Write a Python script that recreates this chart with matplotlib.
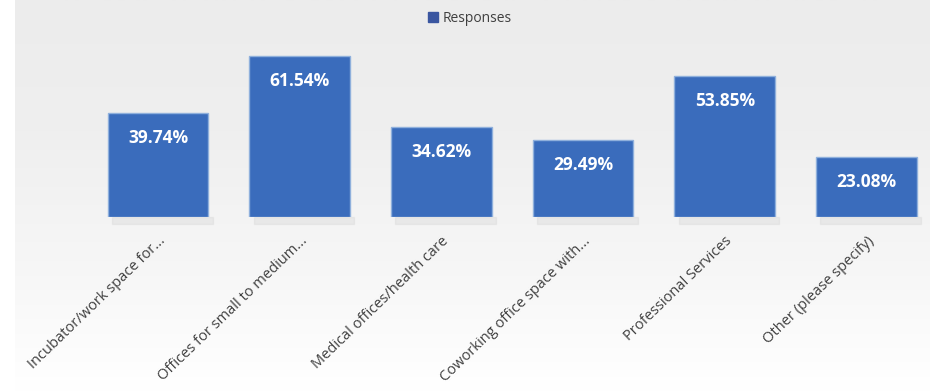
import numpy as np
import matplotlib.pyplot as plt
import matplotlib.transforms as mtransforms
from matplotlib.colors import LinearSegmentedColormap
from matplotlib.patches import Rectangle

categories = [
    "Incubator/work space for...",
    "Offices for small to medium...",
    "Medical offices/health care",
    "Coworking office space with...",
    "Professional Services",
    "Other (please specify)",
]
responses = [39.74, 61.54, 34.62, 29.49, 53.85, 23.08]

W, H = 930, 392
fig = plt.figure(figsize=(W / 100, H / 100), dpi=100)

# background: pale grey at top fading to white, white strip on the left
bg = fig.add_axes([15 / W, 0, 1 - 15 / W, 1])
grad = np.linspace(0, 1, 256).reshape(-1, 1)
cmap = LinearSegmentedColormap.from_list("bg", ["#ffffff", "#f6f6f6", "#efefef", "#ececec"])
bg.imshow(grad, aspect="auto", cmap=cmap, extent=[0, 1, 0, 1], origin="lower")
bg.axis("off")

# plot area: zero line at y=217px from top, 2.61 px per percent
zero_px = 217
ppu = 2.61
ax = fig.add_axes([0, (H - zero_px) / H, 1, zero_px / H])
ax.patch.set_alpha(0)
x = np.arange(len(categories))
step = 141.7
ax.set_xlim(-158 / step, (W - 158) / step)
ax.set_ylim(0, zero_px / ppu)

bars = ax.bar(x, responses, width=0.71, color="#3a6cbc", edgecolor="#8fb0dc",
              linewidth=1.0, zorder=3)
# faint shadow right below bars
for b in bars:
    ax.add_patch(Rectangle((b.get_x() + 0.03, -2.5), b.get_width(), 2.5,
                           color="#d6d6d6", alpha=0.35, clip_on=False, zorder=2))

for xi, v in zip(x, responses):
    ax.annotate(f"{v:.2f}%", (xi, v), xytext=(0, -18), textcoords="offset points",
                ha="center", va="center", color="white", fontsize=12.5,
                fontweight="bold", family="Open Sans", zorder=4)

ax.set_yticks([])
ax.set_xticks(x)
ax.set_xticklabels(categories, rotation=44, ha="right", va="top",
                   rotation_mode="anchor", fontsize=10.5, color="#404040",
                   family="Open Sans")
ax.tick_params(axis="x", length=0, pad=12)
offset = mtransforms.ScaledTranslation(0, 0, fig.dpi_scale_trans)
for lbl in ax.get_xticklabels():
    lbl.set_transform(lbl.get_transform() + offset)
for s in ax.spines.values():
    s.set_visible(False)

# legend
fig.legend([Rectangle((0, 0), 1, 1, color="#3a56a0")], ["Responses"],
           loc="center", bbox_to_anchor=(470 / W, 1 - 18 / H), frameon=False,
           handlelength=0.7, handleheight=0.7, handletextpad=0.3,
           labelcolor="#404040", prop={"family": "Open Sans", "size": 10})

fig.savefig("out.png", dpi=100)
